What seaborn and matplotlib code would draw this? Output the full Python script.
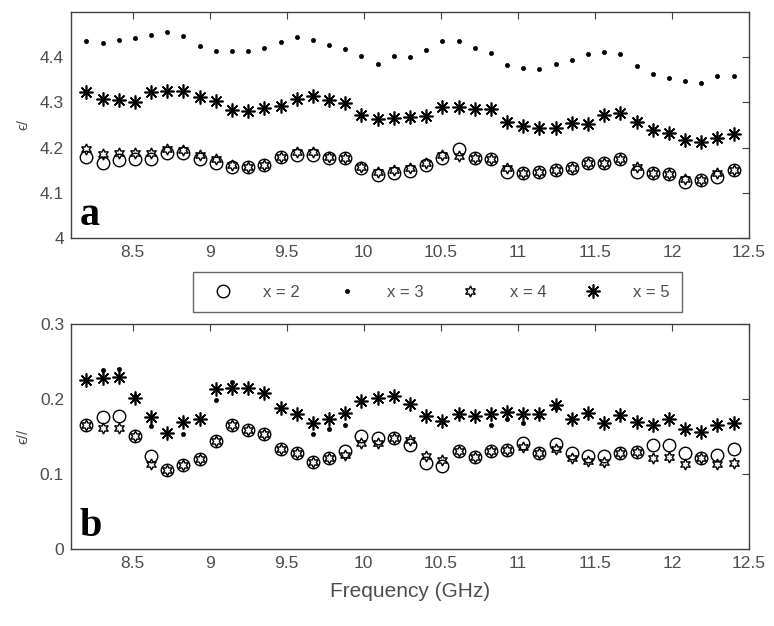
import numpy as np
import pandas as pd
import matplotlib
matplotlib.use("Agg")
import matplotlib.pyplot as plt
import seaborn as sns

# ---------------- data ----------------
freq = [8.2, 8.305, 8.41, 8.515, 8.62, 8.725, 8.83, 8.935, 9.04, 9.145,
        9.25, 9.355, 9.46, 9.565, 9.67, 9.775, 9.88, 9.985, 10.09, 10.195,
        10.3, 10.405, 10.51, 10.615, 10.72, 10.825, 10.93, 11.035, 11.14, 11.245,
        11.35, 11.455, 11.56, 11.665, 11.77, 11.875, 11.98, 12.085, 12.19, 12.295,
        12.4]

# real part (epsilon')
eps1_x2 = [4.180, 4.165, 4.172, 4.174, 4.174, 4.188, 4.187, 4.174, 4.165, 4.157,
           4.157, 4.161, 4.180, 4.183, 4.183, 4.176, 4.176, 4.154, 4.139, 4.144,
           4.148, 4.161, 4.178, 4.196, 4.176, 4.174, 4.146, 4.144, 4.146, 4.150,
           4.154, 4.165, 4.166, 4.174, 4.146, 4.144, 4.141, 4.124, 4.128, 4.135,
           4.150]
eps1_x3 = [4.436, 4.431, 4.439, 4.443, 4.450, 4.455, 4.447, 4.424, 4.413, 4.413,
           4.413, 4.420, 4.433, 4.445, 4.438, 4.428, 4.419, 4.402, 4.386, 4.403,
           4.401, 4.415, 4.435, 4.436, 4.420, 4.410, 4.383, 4.376, 4.374, 4.384,
           4.393, 4.408, 4.411, 4.408, 4.380, 4.362, 4.354, 4.347, 4.343, 4.359,
           4.358]
eps1_x4 = [4.198, 4.185, 4.187, 4.187, 4.189, 4.198, 4.194, 4.183, 4.174, 4.161,
           4.157, 4.161, 4.180, 4.191, 4.191, 4.180, 4.176, 4.157, 4.146, 4.150,
           4.154, 4.165, 4.183, 4.181, 4.176, 4.174, 4.154, 4.144, 4.146, 4.150,
           4.154, 4.165, 4.166, 4.174, 4.157, 4.144, 4.141, 4.130, 4.128, 4.143,
           4.150]
eps1_x5 = [4.322, 4.308, 4.305, 4.300, 4.322, 4.325, 4.325, 4.311, 4.302, 4.283,
           4.280, 4.288, 4.291, 4.307, 4.315, 4.305, 4.299, 4.273, 4.264, 4.266,
           4.268, 4.270, 4.289, 4.289, 4.285, 4.285, 4.256, 4.247, 4.243, 4.244,
           4.254, 4.253, 4.272, 4.277, 4.256, 4.239, 4.232, 4.216, 4.212, 4.221,
           4.231]

# imaginary part (epsilon'')
eps2_x2 = [0.166, 0.176, 0.177, 0.151, 0.124, 0.106, 0.112, 0.120, 0.144, 0.165,
           0.159, 0.154, 0.134, 0.128, 0.116, 0.121, 0.131, 0.151, 0.148, 0.148,
           0.139, 0.115, 0.111, 0.131, 0.123, 0.131, 0.132, 0.141, 0.128, 0.140,
           0.128, 0.124, 0.124, 0.128, 0.130, 0.139, 0.139, 0.128, 0.121, 0.125,
           0.134]
eps2_x3 = [0.225, 0.239, 0.240, 0.204, 0.164, 0.155, 0.153, 0.173, 0.199, 0.223,
           0.215, 0.208, 0.188, 0.180, 0.153, 0.160, 0.166, 0.197, 0.201, 0.204,
           0.194, 0.177, 0.171, 0.178, 0.177, 0.165, 0.174, 0.168, 0.178, 0.188,
           0.174, 0.180, 0.168, 0.178, 0.170, 0.166, 0.174, 0.160, 0.156, 0.165,
           0.168]
eps2_x4 = [0.166, 0.162, 0.162, 0.151, 0.114, 0.106, 0.112, 0.120, 0.144, 0.165,
           0.159, 0.154, 0.134, 0.128, 0.116, 0.121, 0.125, 0.141, 0.141, 0.148,
           0.145, 0.124, 0.119, 0.131, 0.123, 0.131, 0.132, 0.136, 0.128, 0.133,
           0.121, 0.118, 0.116, 0.128, 0.130, 0.121, 0.123, 0.114, 0.121, 0.114,
           0.115]
eps2_x5 = [0.225, 0.228, 0.229, 0.202, 0.176, 0.155, 0.170, 0.173, 0.213, 0.215,
           0.215, 0.208, 0.188, 0.180, 0.168, 0.174, 0.182, 0.197, 0.201, 0.204,
           0.194, 0.177, 0.171, 0.180, 0.177, 0.180, 0.183, 0.180, 0.180, 0.192,
           0.174, 0.181, 0.168, 0.179, 0.170, 0.166, 0.174, 0.160, 0.156, 0.165,
           0.168]

series_labels = ["x = 2", "x = 3", "x = 4", "x = 5"]
top_ticks = [4, 4.1, 4.2, 4.3, 4.4]
bottom_ticks = [0, 0.1, 0.2, 0.3]
x_ticks = [8.5, 9, 9.5, 10, 10.5, 11, 11.5, 12, 12.5]

# ---------------- style ----------------
sns.set_theme(style="white")
plt.rcParams["font.family"] = ["Liberation Sans", "DejaVu Sans"]
axis_gray = "#404040"
text_gray = "#4d4d4d"

marker_styles = [
    dict(marker="o", markersize=9, markerfacecolor="none", markeredgecolor="black", markeredgewidth=1.0),
    dict(marker="o", markersize=3.0, markerfacecolor="black", markeredgecolor="black", markeredgewidth=0.5),
    dict(marker=(6, 1, 0), markersize=8, markerfacecolor="none", markeredgecolor="black", markeredgewidth=1.0),
    dict(marker=(8, 2, 0), markersize=10, markerfacecolor="none", markeredgecolor="black", markeredgewidth=1.2),
]

fig = plt.figure(figsize=(7.74, 6.26), dpi=100)
ax1 = fig.add_axes([71 / 774, 1 - 238 / 626, 678 / 774, 226 / 626])
ax2 = fig.add_axes([71 / 774, 1 - 549 / 626, 678 / 774, 225 / 626])


def draw(ax, series, ylim, yticks, ylabel, tag):
    for vals, lab, st in zip(series, series_labels, marker_styles):
        df = pd.DataFrame({"freq": freq, "val": vals})
        sns.lineplot(data=df, x="freq", y="val", ax=ax, linestyle="none",
                     color="black", label=lab, legend=False, **st)
    ax.set_xlim(8.1, 12.5)
    ax.set_ylim(*ylim)
    ax.set_xticks(x_ticks)
    ax.set_xticklabels([f"{t:g}" for t in x_ticks])
    ax.set_yticks(yticks)
    ax.set_yticklabels([f"{t:g}" for t in yticks])
    ax.tick_params(axis="both", direction="in", length=5, width=0.8,
                   colors=axis_gray, labelcolor=text_gray, labelsize=12.5,
                   top=True, right=True, pad=5)
    for sp in ax.spines.values():
        sp.set_visible(True)
        sp.set_color(axis_gray)
        sp.set_linewidth(1.0)
    ax.set_xlabel("")
    ax.set_ylabel(ylabel, fontsize=11, color=text_gray, labelpad=7)
    ax.text(9 / 678, 13 / 226, tag, transform=ax.transAxes, ha="left",
            va="baseline", fontsize=29, fontweight="bold",
            family=["Liberation Serif", "DejaVu Serif"], color="black")


draw(ax1, [eps1_x2, eps1_x3, eps1_x4, eps1_x5], (4.0, 4.5), top_ticks, "ϵ/", "a")
draw(ax2, [eps2_x2, eps2_x3, eps2_x4, eps2_x5], (0.0, 0.3), bottom_ticks, "ϵ//", "b")

ax2.set_xlabel("Frequency (GHz)", fontsize=15, color=text_gray, labelpad=8)

handles, labels = ax1.get_legend_handles_labels()
leg = fig.legend(handles, labels, ncol=4, loc="center",
                 bbox_to_anchor=(437.5 / 774, 1 - 292.5 / 626),
                 frameon=True, fontsize=12, handlelength=2.2, handletextpad=1.3,
                 columnspacing=1.7, borderpad=0.75, fancybox=False)
leg.get_frame().set_edgecolor(axis_gray)
leg.get_frame().set_linewidth(1.0)
for t in leg.get_texts():
    t.set_color(text_gray)

fig.savefig("out.png", dpi=100)
